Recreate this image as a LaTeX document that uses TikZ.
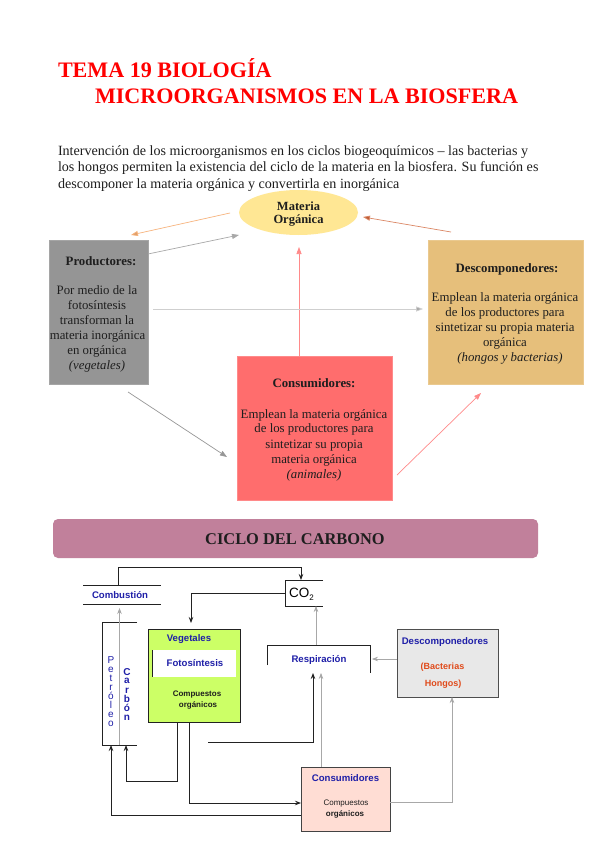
\documentclass[tikz,border=0pt]{standalone}
\usepackage{fontspec}
\setmainfont{Liberation Serif}
\newfontfamily\sansf{Liberation Sans}
\usetikzlibrary{arrows.meta,shapes.geometric,calc}
\newcommand\mytightls{\lineskiplimit=-20pt\relax\lineskip=0pt\relax}
\definecolor{titlered}{HTML}{FF0000}
\definecolor{txtdark}{HTML}{1E1E1E}
\definecolor{prodgray}{HTML}{959595}
\definecolor{descfill}{HTML}{E6BF7B}
\definecolor{consfill}{HTML}{FF6D6D}
\definecolor{matfill}{HTML}{FFE794}
\definecolor{bannerc}{HTML}{C1809B}
\definecolor{vegfill}{HTML}{CCFF66}
\definecolor{descgray}{HTML}{E8E8E8}
\definecolor{conspink}{HTML}{FFDDD4}
\definecolor{labblue}{HTML}{1F1FA8}
\definecolor{laborange}{HTML}{E04A1A}
\definecolor{arrorange}{HTML}{F7B27A}
\definecolor{arrred}{HTML}{D2693F}
\definecolor{arrpink}{HTML}{FF8A8A}
\definecolor{lgray}{HTML}{A8A8A8}
\definecolor{llgray}{HTML}{CFCFCF}
\definecolor{lineblack}{HTML}{222222}
\begin{document}
\begin{tikzpicture}[x=1pt,y=-1pt,
  every node/.style={inner sep=0pt,outer sep=0pt},
  ttl/.style={anchor=base west,text=titlered,font=\fontsize{22.1}{24}\selectfont\bfseries},
  para/.style={anchor=base west,text=txtdark,font=\fontsize{14.1}{16}\selectfont},
  btx/.style={anchor=base,text=txtdark,font=\fontsize{12.8}{15}\selectfont},
  bhd/.style={anchor=base,text=txtdark,font=\fontsize{12.8}{15}\selectfont\bfseries},
  bit/.style={anchor=base,text=txtdark,font=\fontsize{12.8}{15}\selectfont\itshape},
  topar/.style={line width=0.7pt,-{Triangle[length=7pt,width=5pt]}},
  cl/.style={line width=0.8pt,draw=lineblack},
  gl/.style={line width=0.8pt,draw=lgray},
  carr/.style={-{Stealth[length=6pt,width=4.5pt,inset=2pt]}},
  garr/.style={-{Stealth[length=6pt,width=4.5pt,inset=2pt,fill=lineblack]}},
  blab/.style={anchor=base,text=labblue,font=\sansf\fontsize{9.6}{11}\selectfont\bfseries},
  klab/.style={anchor=base,text=txtdark,font=\sansf\fontsize{8}{10}\selectfont\bfseries},
  olab/.style={anchor=base,text=laborange,font=\sansf\fontsize{9}{11}\selectfont\bfseries},
  vlab/.style={anchor=center,align=center,text=labblue}
]
\useasboundingbox[fill=white] (0,0) rectangle (599,848);

% ---------- title ----------
\node[ttl] (t1) at (58,77.5) {TEMA 19 BIOLOGÍA};
\node[ttl] (t2) at (95,103.5) {MICROORGANISMOS EN LA BIOSFERA};

% ---------- paragraph ----------
\node[para] (p1) at (58,155) {Intervención de los microorganismos en los ciclos biogeoquímicos – las bacterias y};
\node[para] (p2) at (58,171.5) {los hongos permiten la existencia del ciclo de la materia en la biosfera. Su función es};
\node[para] (p3) at (58,188) {descomponer la materia orgánica y convertirla en inorgánica};

% ---------- top diagram ----------
\node[ellipse,fill=matfill,minimum width=119pt,minimum height=45pt] (mat) at (298.5,212.5) {};
\node[anchor=base,text=txtdark,font=\fontsize{12.5}{13}\selectfont\bfseries] (mat1) at (298.5,210) {Materia};
\node[anchor=base,text=txtdark,font=\fontsize{12.5}{13}\selectfont\bfseries] (mat2) at (298.5,223.5) {Orgánica};

\node[fill=prodgray,draw=prodgray!85!white,minimum width=99pt,minimum height=144pt] (prod) at (98.5,312) {};
\node[bhd] (prodh) at (101,265) {Productores:};
\node[btx] (prod1) at (97,294) {Por medio de la};
\node[btx] (prod2) at (97,309) {fotosíntesis};
\node[btx] (prod3) at (97,324) {transforman la};
\node[btx] (prod4) at (97.5,339) {materia inorgánica};
\node[btx] (prod5) at (97,354) {en orgánica};
\node[bit] (prod6) at (97,369) {(vegetales)};

\node[fill=descfill,draw=descfill!85!white,minimum width=155pt,minimum height=144pt] (desc) at (505.5,312) {};
\node[bhd] (desch) at (507,272) {Descomponedores:};
\node[btx] (desc1) at (505,301) {Emplean la materia orgánica};
\node[btx] (desc2) at (505,316) {de los productores para};
\node[btx] (desc3) at (505,331) {sintetizar su propia materia};
\node[btx] (desc4) at (505,346) {orgánica};
\node[bit] (desc5) at (510,361) {(hongos y bacterias)};

\node[fill=consfill,draw=consfill!80!white,minimum width=155pt,minimum height=144pt] (cons) at (314.5,428) {};
\node[bhd] (consh) at (314,387) {Consumidores:};
\node[btx] (cons1) at (314,418) {Emplean la materia orgánica};
\node[btx] (cons2) at (314,432.5) {de los productores para};
\node[btx] (cons3) at (314,448) {sintetizar su propia};
\node[btx] (cons4) at (314,463) {materia orgánica};
\node[bit] (cons5) at (314,478) {(animales)};

\coordinate (a1s) at (230,213);  \coordinate (a1e) at (131,235);
\coordinate (a2s) at (148,254);  \coordinate (a2e) at (239,235);
\coordinate (a3s) at (451,232);  \coordinate (a3e) at (363,217);
\coordinate (a4e) at (299,247);
\coordinate (a5s) at (153,309);  \coordinate (a5e) at (423,309);
\coordinate (a6s) at (128,392);  \coordinate (a6e) at (227,457);
\coordinate (a7s) at (397,475);  \coordinate (a7e) at (481,393);

\draw[topar,draw=arrorange,-{Triangle[length=7pt,width=5pt,fill=arrorange!90!black]}] (a1s) -- (a1e);
\draw[topar,draw=lgray] (a2s) -- (a2e);
\draw[topar,draw=arrred!80!white,-{Triangle[length=7pt,width=5pt,fill=arrred!90!black]}] (a3s) -- (a3e);
\draw[topar,draw=arrpink] (cons.north -| a4e) -- (a4e);
\draw[topar,draw=llgray,-{Triangle[length=7pt,width=5pt,fill=lgray]}] (a5s) -- (a5e);
\draw[topar,draw=lgray!90!black] (a6s) -- (a6e);
\draw[topar,draw=arrpink] (a7s) -- (a7e);

% ---------- banner ----------
\node[fill=bannerc,rounded corners=5pt,minimum width=485pt,minimum height=39pt] (ban) at (295.5,538.5) {};
\node[anchor=base,text=txtdark,font=\fontsize{16.4}{19}\selectfont\bfseries] (bant) at (295,544.5) {CICLO DEL CARBONO};

% ---------- carbon cycle ----------
\node[minimum width=78pt,minimum height=19pt] (comb) at (122,594.5) {};
\draw[cl] (comb.north west) -- (comb.north east);
\draw[cl] (comb.south west) -- (comb.south east);
\node[blab] (combt) at (120,598) {Combustión};

\node[minimum width=38pt,minimum height=26pt] (co2) at (304,593) {};
\draw[cl] (co2.north east) -- (co2.north west) -- (co2.south west) -- (co2.south east);
\node[anchor=base west,text=black,font=\sansf\fontsize{13.5}{15}\selectfont] (co2t) at (289,597.5) {CO\raisebox{-0.35ex}{\fontsize{8}{9}\selectfont 2}};

\node[fill=vegfill,draw=lineblack,line width=0.8pt,minimum width=92pt,minimum height=93pt] (veg) at (194,675.5) {};
\node[fill=white,minimum width=84pt,minimum height=27pt] (foto) at (194,663.5) {};
\draw[cl] (foto.north west) -- (foto.south west);
\node[blab] (vegt) at (189,641) {Vegetales};
\node[blab] (fotot) at (195,666) {Fotosíntesis};
\node[klab] (veg1) at (197,696) {Compuestos};
\node[klab] (veg2) at (198,707) {orgánicos};

\node[minimum width=103pt,minimum height=28pt] (resp) at (318.5,659) {};
\draw[cl] (resp.north west) ++(0,20) -- (resp.north west) -- (resp.north east) -- (resp.south east);
\node[blab] (respt) at (319,662) {Respiración};

\node[fill=descgray,draw=lineblack!80,line width=0.8pt,minimum width=101pt,minimum height=68pt] (dsc) at (447.5,663) {};
\node[blab] (dsct) at (445,644) {Descomponedores};
\node[olab] (dsc1) at (442.5,669) {(Bacterias};
\node[olab] (dsc2) at (443,686) {Hongos)};

\node[fill=conspink,draw=lineblack!85,line width=0.8pt,minimum width=89pt,minimum height=64pt] (cns) at (345.5,799) {};
\node[blab] (cnst) at (345.5,781) {Consumidores};
\node[klab,font=\sansf\fontsize{8}{10}\selectfont] (cns1) at (346,805) {Compuestos};
\node[klab] (cns2) at (345,816) {orgánicos};

\node[minimum width=35pt,minimum height=123pt] (colm) at (119.5,683.5) {};
\draw[cl] (colm.north east) -- (colm.north west) -- (colm.south west) -- (colm.south east);
\node[vlab,font=\sansf\fontsize{10}{9.1}\selectfont\mytightls] (petr) at (111,691.5) {P\\e\\t\\r\\ó\\l\\e\\o};
\node[vlab,font=\sansf\bfseries\fontsize{10}{9}\selectfont\mytightls] (carb) at (127,694) {C\\a\\r\\b\\ó\\n};

\coordinate (free) at (208,742);

% connectors
\draw[cl,carr] ([xshift=-4pt]comb.north) -- ++(0,-18) -| ([xshift=-3pt]co2.north);
\draw[cl,carr,shorten >=6pt] (co2.west) -| ([xshift=-3pt]veg.north);
\draw[gl,garr] ([xshift=-2.5pt]resp.north) -- ++(0,-39);
\draw[gl,garr,shorten >=2pt] (dsc.west |- resp.east) -- (resp.east);
\draw[gl,garr] ([yshift=-3pt]cns.east) -| ([xshift=4.5pt]dsc.south);
\draw[gl,garr] ([xshift=-24.5pt]cns.north) -- ++(0,-94);
\draw[cl,carr] (free) -| ([xshift=-5.5pt]resp.south);
\draw[gl,garr] (colm.south) -- ++(0,-137);
\draw[cl,carr] ([xshift=-17pt]veg.south) -- ++(0,59) -| ([xshift=6.5pt]colm.south);
\draw[cl,carr] ([yshift=-16pt]cns.west) -| ([xshift=-8.5pt]colm.south);
\draw[cl,carr] ([xshift=-4.5pt]veg.south) |- ([yshift=-4pt]cns.west);
\end{tikzpicture}
\end{document}
